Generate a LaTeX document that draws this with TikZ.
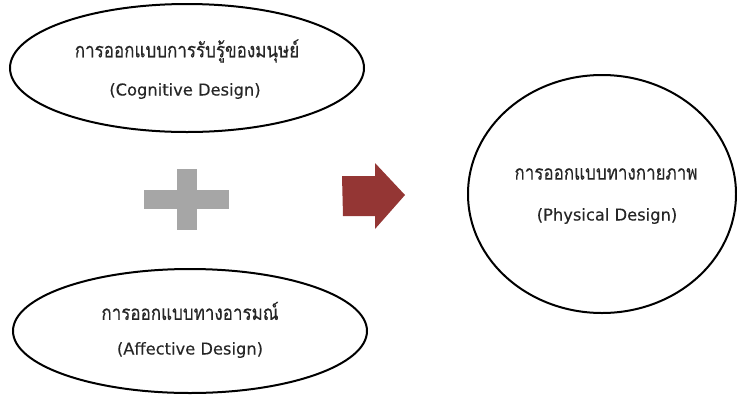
\documentclass[tikz,border=0pt]{standalone}
\usepackage{fontspec}
\usepackage{graphicx}
\newfontfamily\thaifont[Script=Thai,FakeBold=0.4]{Loma}
\newfontfamily\latinfont[FakeBold=0.3]{DejaVu Sans}
\definecolor{plusgray}{HTML}{A6A6A6}
\definecolor{arrowred}{HTML}{943634}
\definecolor{txt}{HTML}{262626}
\newcommand{\thaitext}[1]{\scalebox{1}[1.2]{#1}}
\begin{document}
\begin{tikzpicture}[x=1pt,y=-1pt,
  oval/.style={draw=black,line width=2pt},
  thlbl/.style={text=txt,font=\thaifont\fontsize{17}{19}\selectfont,inner sep=0pt},
  enlbl/.style={text=txt,font=\latinfont\fontsize{16.3}{18}\selectfont,inner sep=0pt}]
\useasboundingbox (0,0) rectangle (737,400);
% three design ovals
\draw[oval] (187,68) ellipse [x radius=177,y radius=64];
\draw[oval] (190,331) ellipse [x radius=177,y radius=62];
\draw[oval] (602,194) ellipse [x radius=134,y radius=119];
% labels
\node[thlbl] (cogth) at (187,51) {\thaitext{การออกแบบการรับรู้ของมนุษย์}};
\node[enlbl] (cogen) at (185,91) {(Cognitive Design)};
\node[thlbl] (affth) at (190,311) {\thaitext{การออกแบบทางอารมณ์}};
\node[enlbl] (affen) at (190,350) {(Affective Design)};
\node[thlbl] (phyth) at (606,174) {\thaitext{การออกแบบทางกายภาพ}};
\node[enlbl] (phyen) at (607,216) {(Physical Design)};
% plus sign
\fill[plusgray] (144,190) rectangle (229,209);
\fill[plusgray] (177,169) rectangle (197,230);
% block arrow
\fill[arrowred] (342,176) -- (375,176) -- (375,163) -- (405,195) -- (375,229)
  -- (375,216) -- (343,216) -- cycle;
\end{tikzpicture}
\end{document}
